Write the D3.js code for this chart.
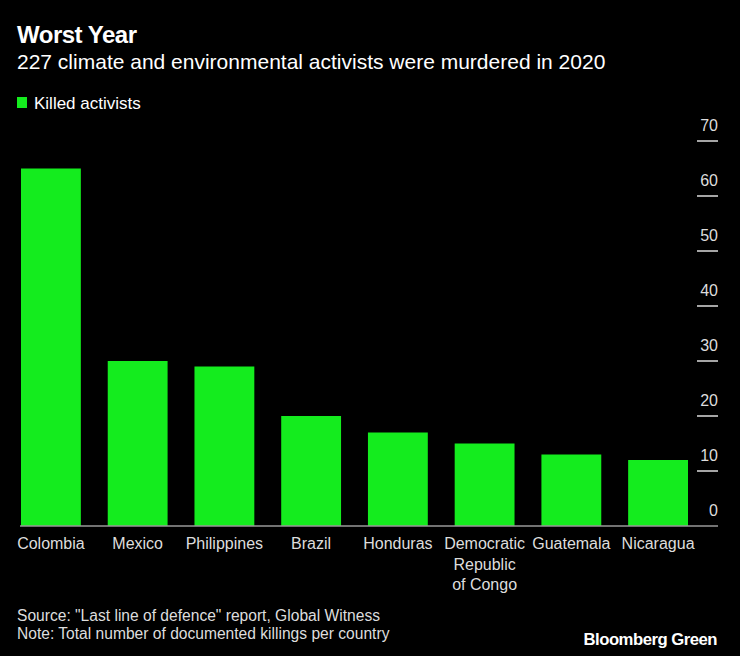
<!DOCTYPE html>
<html>
<head>
<meta charset="utf-8">
<script src="https://cdn.jsdelivr.net/npm/d3@7"></script>
<style>
  html, body { margin: 0; padding: 0; background: #000; }
  svg { display: block; font-family: "Liberation Sans", Arial, sans-serif; }
</style>
</head>
<body>
<svg id="chart"></svg>
<script>
const countries = ["Colombia", "Mexico", "Philippines", "Brazil", "Honduras",
  "Democratic Republic of Congo", "Guatemala", "Nicaragua"];
const killed = [65, 30, 29, 20, 17, 15, 13, 12];
const yTicks = [0, 10, 20, 30, 40, 50, 60, 70];
// how the long name wraps under its bar
const labelLines = {
  "Democratic Republic of Congo": ["Democratic", "Republic", "of Congo"]
};

const width = 740;
const height = 656;
const green = "#14ec1e";

const data = countries.map((c, i) => ({ country: c, value: killed[i] }));

const svg = d3.select("#chart")
    .attr("width", width)
    .attr("height", height);

svg.append("rect")
    .attr("width", width)
    .attr("height", height)
    .attr("fill", "#000");

// header
svg.append("text")
    .attr("x", 17).attr("y", 43)
    .attr("fill", "#fff")
    .style("font-size", "24px")
    .style("font-weight", "bold")
    .style("letter-spacing", "-0.5px")
    .text("Worst Year");

svg.append("text")
    .attr("x", 17).attr("y", 69)
    .attr("fill", "#fff")
    .style("font-size", "21px")
    .text("227 climate and environmental activists were murdered in 2020");

// legend
svg.append("rect")
    .attr("x", 17).attr("y", 97)
    .attr("width", 10).attr("height", 11)
    .attr("fill", green);

svg.append("text")
    .attr("x", 34).attr("y", 109)
    .attr("fill", "#fff")
    .style("font-size", "17px")
    .text("Killed activists");

const xScale = d3.scaleBand()
    .domain(countries)
    .range([21, 688])
    .paddingInner(0.31)
    .paddingOuter(0);

const yScale = d3.scaleLinear()
    .domain([0, 70])
    .range([526, 141]);

// right axis: tick lines with labels sitting above them
const yAxis = svg.append("g").attr("class", "y-axis");

yAxis.selectAll(".tick-line")
    .data(yTicks.filter(t => t > 0))
    .enter()
    .append("line")
    .attr("x1", 697)
    .attr("x2", 718)
    .attr("y1", d => yScale(d))
    .attr("y2", d => yScale(d))
    .attr("stroke", "#ddd")
    .attr("stroke-width", 1.5);

yAxis.selectAll(".tick-label")
    .data(yTicks)
    .enter()
    .append("text")
    .attr("x", 718)
    .attr("y", d => yScale(d) - 10)
    .attr("text-anchor", "end")
    .attr("fill", "#ddd")
    .style("font-size", "16px")
    .text(d => d);

// bars
svg.selectAll(".bar")
    .data(data)
    .enter()
    .append("rect")
    .attr("x", d => xScale(d.country))
    .attr("y", d => yScale(d.value))
    .attr("width", xScale.bandwidth())
    .attr("height", d => yScale(0) - yScale(d.value))
    .attr("fill", green);

// baseline
svg.append("line")
    .attr("x1", 20).attr("x2", 718)
    .attr("y1", yScale(0)).attr("y2", yScale(0))
    .attr("stroke", "#999")
    .attr("stroke-width", 1.5);

// category labels
const xLabels = svg.selectAll(".x-label")
    .data(data)
    .enter()
    .append("text")
    .attr("x", d => xScale(d.country) + xScale.bandwidth() / 2)
    .attr("y", 549)
    .attr("text-anchor", "middle")
    .attr("fill", "#ddd")
    .style("font-size", "16px");

xLabels.selectAll("tspan")
    .data(d => (labelLines[d.country] || [d.country]).map(t => ({ t, x: xScale(d.country) + xScale.bandwidth() / 2 })))
    .enter()
    .append("tspan")
    .attr("x", d => d.x)
    .attr("dy", (d, i) => i === 0 ? 0 : 20.5)
    .text(d => d.t);

// footer
svg.append("text")
    .attr("x", 17).attr("y", 621)
    .attr("fill", "#ddd")
    .style("font-size", "15.6px")
    .text("Source: \"Last line of defence\" report, Global Witness");

svg.append("text")
    .attr("x", 17).attr("y", 639)
    .attr("fill", "#ddd")
    .style("font-size", "15.6px")
    .text("Note: Total number of documented killings per country");

svg.append("text")
    .attr("x", 717).attr("y", 645)
    .attr("text-anchor", "end")
    .attr("fill", "#fff")
    .style("font-size", "16.7px")
    .style("font-weight", "bold")
    .style("letter-spacing", "-0.5px")
    .text("Bloomberg Green");
</script>
</body>
</html>
